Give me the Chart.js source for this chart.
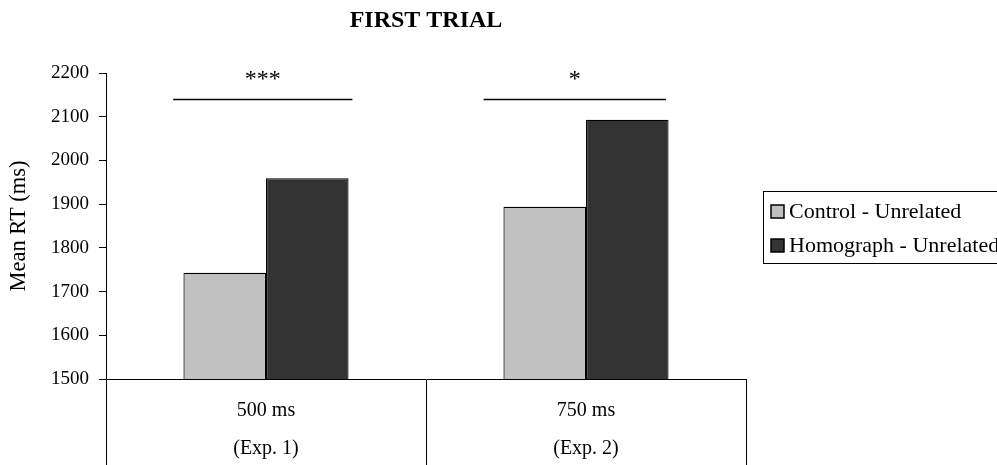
<!DOCTYPE html>
<html>
<head>
<meta charset="utf-8">
<script src="https://cdn.jsdelivr.net/npm/chart.js@4/dist/chart.umd.min.js"></script>
<style>
  html, body { margin: 0; padding: 0; background: #fff; }
  #wrap { width: 997px; height: 465px; position: relative; }
</style>
</head>
<body>
<div id="wrap"><canvas id="c" width="997" height="465"></canvas></div>
<script>
// Categories (two lines each: SOA and experiment)
const categories = [['500 ms', '(Exp. 1)'], ['750 ms', '(Exp. 2)']];
// Mean RT per condition (ms)
const controlUnrelated = [1743, 1894];
const homographUnrelated = [1959, 2093];
// Significance markers over each pair
const significance = ['***', '*'];
// Y axis range
const yMin = 1500;
const yMax = 2200;
const yStep = 100;

const SERIF = '"Liberation Serif", "Times New Roman", serif';

// Significance brackets above each pair of bars
const sigPlugin = {
  id: 'sigBrackets',
  afterDatasetsDraw(chart, args, opts) {
    const ctx = chart.ctx;
    const x = chart.scales.x, y = chart.scales.y;
    const catW = x.width / categories.length;
    const lineY = Math.round(y.getPixelForValue(opts.lineValue)) + 0.5;
    const textY = y.getPixelForValue(opts.textValue);
    ctx.save();
    ctx.strokeStyle = '#000';
    ctx.lineWidth = 1.5;
    ctx.fillStyle = '#000';
    ctx.font = '24px ' + SERIF;
    ctx.textAlign = 'center';
    ctx.textBaseline = 'alphabetic';
    significance.forEach((s, i) => {
      const cx = x.getPixelForValue(i);
      const x0 = cx + opts.from[i] * catW;
      const x1 = cx + opts.to[i] * catW;
      ctx.beginPath();
      ctx.moveTo(x0, lineY);
      ctx.lineTo(x1, lineY);
      ctx.stroke();
      const m = ctx.measureText(s);
      const base = textY + (m.actualBoundingBoxAscent - m.actualBoundingBoxDescent) / 2;
      ctx.fillText(s, (x0 + x1) / 2, base);
    });
    ctx.restore();
  }
};

// Boxed legend to the right of the plot
const boxLegend = {
  id: 'boxLegend',
  afterDraw(chart) {
    const ctx = chart.ctx;
    const ca = chart.chartArea;
    const left = ca.right + 17;
    const top = 191;
    const rowH = 34;
    ctx.save();
    ctx.strokeStyle = '#000';
    ctx.lineWidth = 1;
    ctx.strokeRect(left + 0.5, top + 0.5, 245, 72);
    ctx.font = '22px ' + SERIF;
    ctx.textBaseline = 'middle';
    ctx.textAlign = 'left';
    chart.data.datasets.forEach((ds, i) => {
      const cy = top + 20 + i * rowH;
      ctx.fillStyle = ds.backgroundColor;
      ctx.fillRect(left + 8, cy - 6, 13, 13);
      ctx.strokeStyle = '#000';
      ctx.lineWidth = 1.5;
      ctx.strokeRect(left + 8, cy - 6, 13, 13);
      ctx.fillStyle = '#000';
      ctx.fillText(ds.label, left + 26, cy + 1);
    });
    ctx.restore();
  }
};

new Chart(document.getElementById('c'), {
  type: 'bar',
  data: {
    labels: categories,
    datasets: [
      {
        label: 'Control - Unrelated',
        data: controlUnrelated,
        backgroundColor: '#c0c0c0',
        borderColor: '#000',
        borderWidth: 1.2
      },
      {
        label: 'Homograph - Unrelated',
        data: homographUnrelated,
        backgroundColor: '#333333',
        borderColor: '#000',
        borderWidth: 1.2
      }
    ]
  },
  options: {
    responsive: false,
    devicePixelRatio: 1,
    animation: false,
    categoryPercentage: 0.516,
    barPercentage: 1,
    layout: { padding: { left: 0, right: 251, top: 0, bottom: 0 } },
    plugins: {
      legend: { display: false },
      tooltip: { enabled: false },
      title: {
        display: true,
        text: 'FIRST TRIAL',
        fullSize: false,
        color: '#000',
        font: { family: SERIF, size: 24, weight: 'bold' },
        padding: { top: 6, bottom: 38.2 }
      },
      sigBrackets: {
        lineValue: 2140,
        textValue: 2195,
        from: [-0.29, -0.32],
        to: [0.27, 0.25]
      }
    },
    scales: {
      x: {
        offset: true,
        afterFit(scale) { scale.height = 86; },
        grid: {
          display: true,
          offset: true,
          drawOnChartArea: false,
          drawTicks: true,
          tickLength: 86,
          color: '#000',
          lineWidth: 1
        },
        border: { display: true, color: '#000', width: 1 },
        ticks: {
          color: '#000',
          font: { family: SERIF, size: 20, lineHeight: 1.9 },
          padding: -73,
          maxRotation: 0,
          autoSkip: false
        }
      },
      y: {
        min: yMin,
        max: yMax,
        afterFit(scale) { scale.width = 106; },
        grid: {
          drawOnChartArea: false,
          drawTicks: true,
          tickLength: 7,
          color: '#000',
          lineWidth: 1
        },
        border: { display: true, color: '#000', width: 1 },
        ticks: {
          stepSize: yStep,
          color: '#000',
          padding: 10,
          font: { family: SERIF, size: 19 },
          callback: (v) => String(v)
        },
        title: {
          display: true,
          text: 'Mean RT (ms)',
          color: '#000',
          font: { family: SERIF, size: 22.5 },
          padding: { top: 6, bottom: 0 }
        }
      }
    }
  },
  plugins: [sigPlugin, boxLegend]
});
</script>
</body>
</html>
